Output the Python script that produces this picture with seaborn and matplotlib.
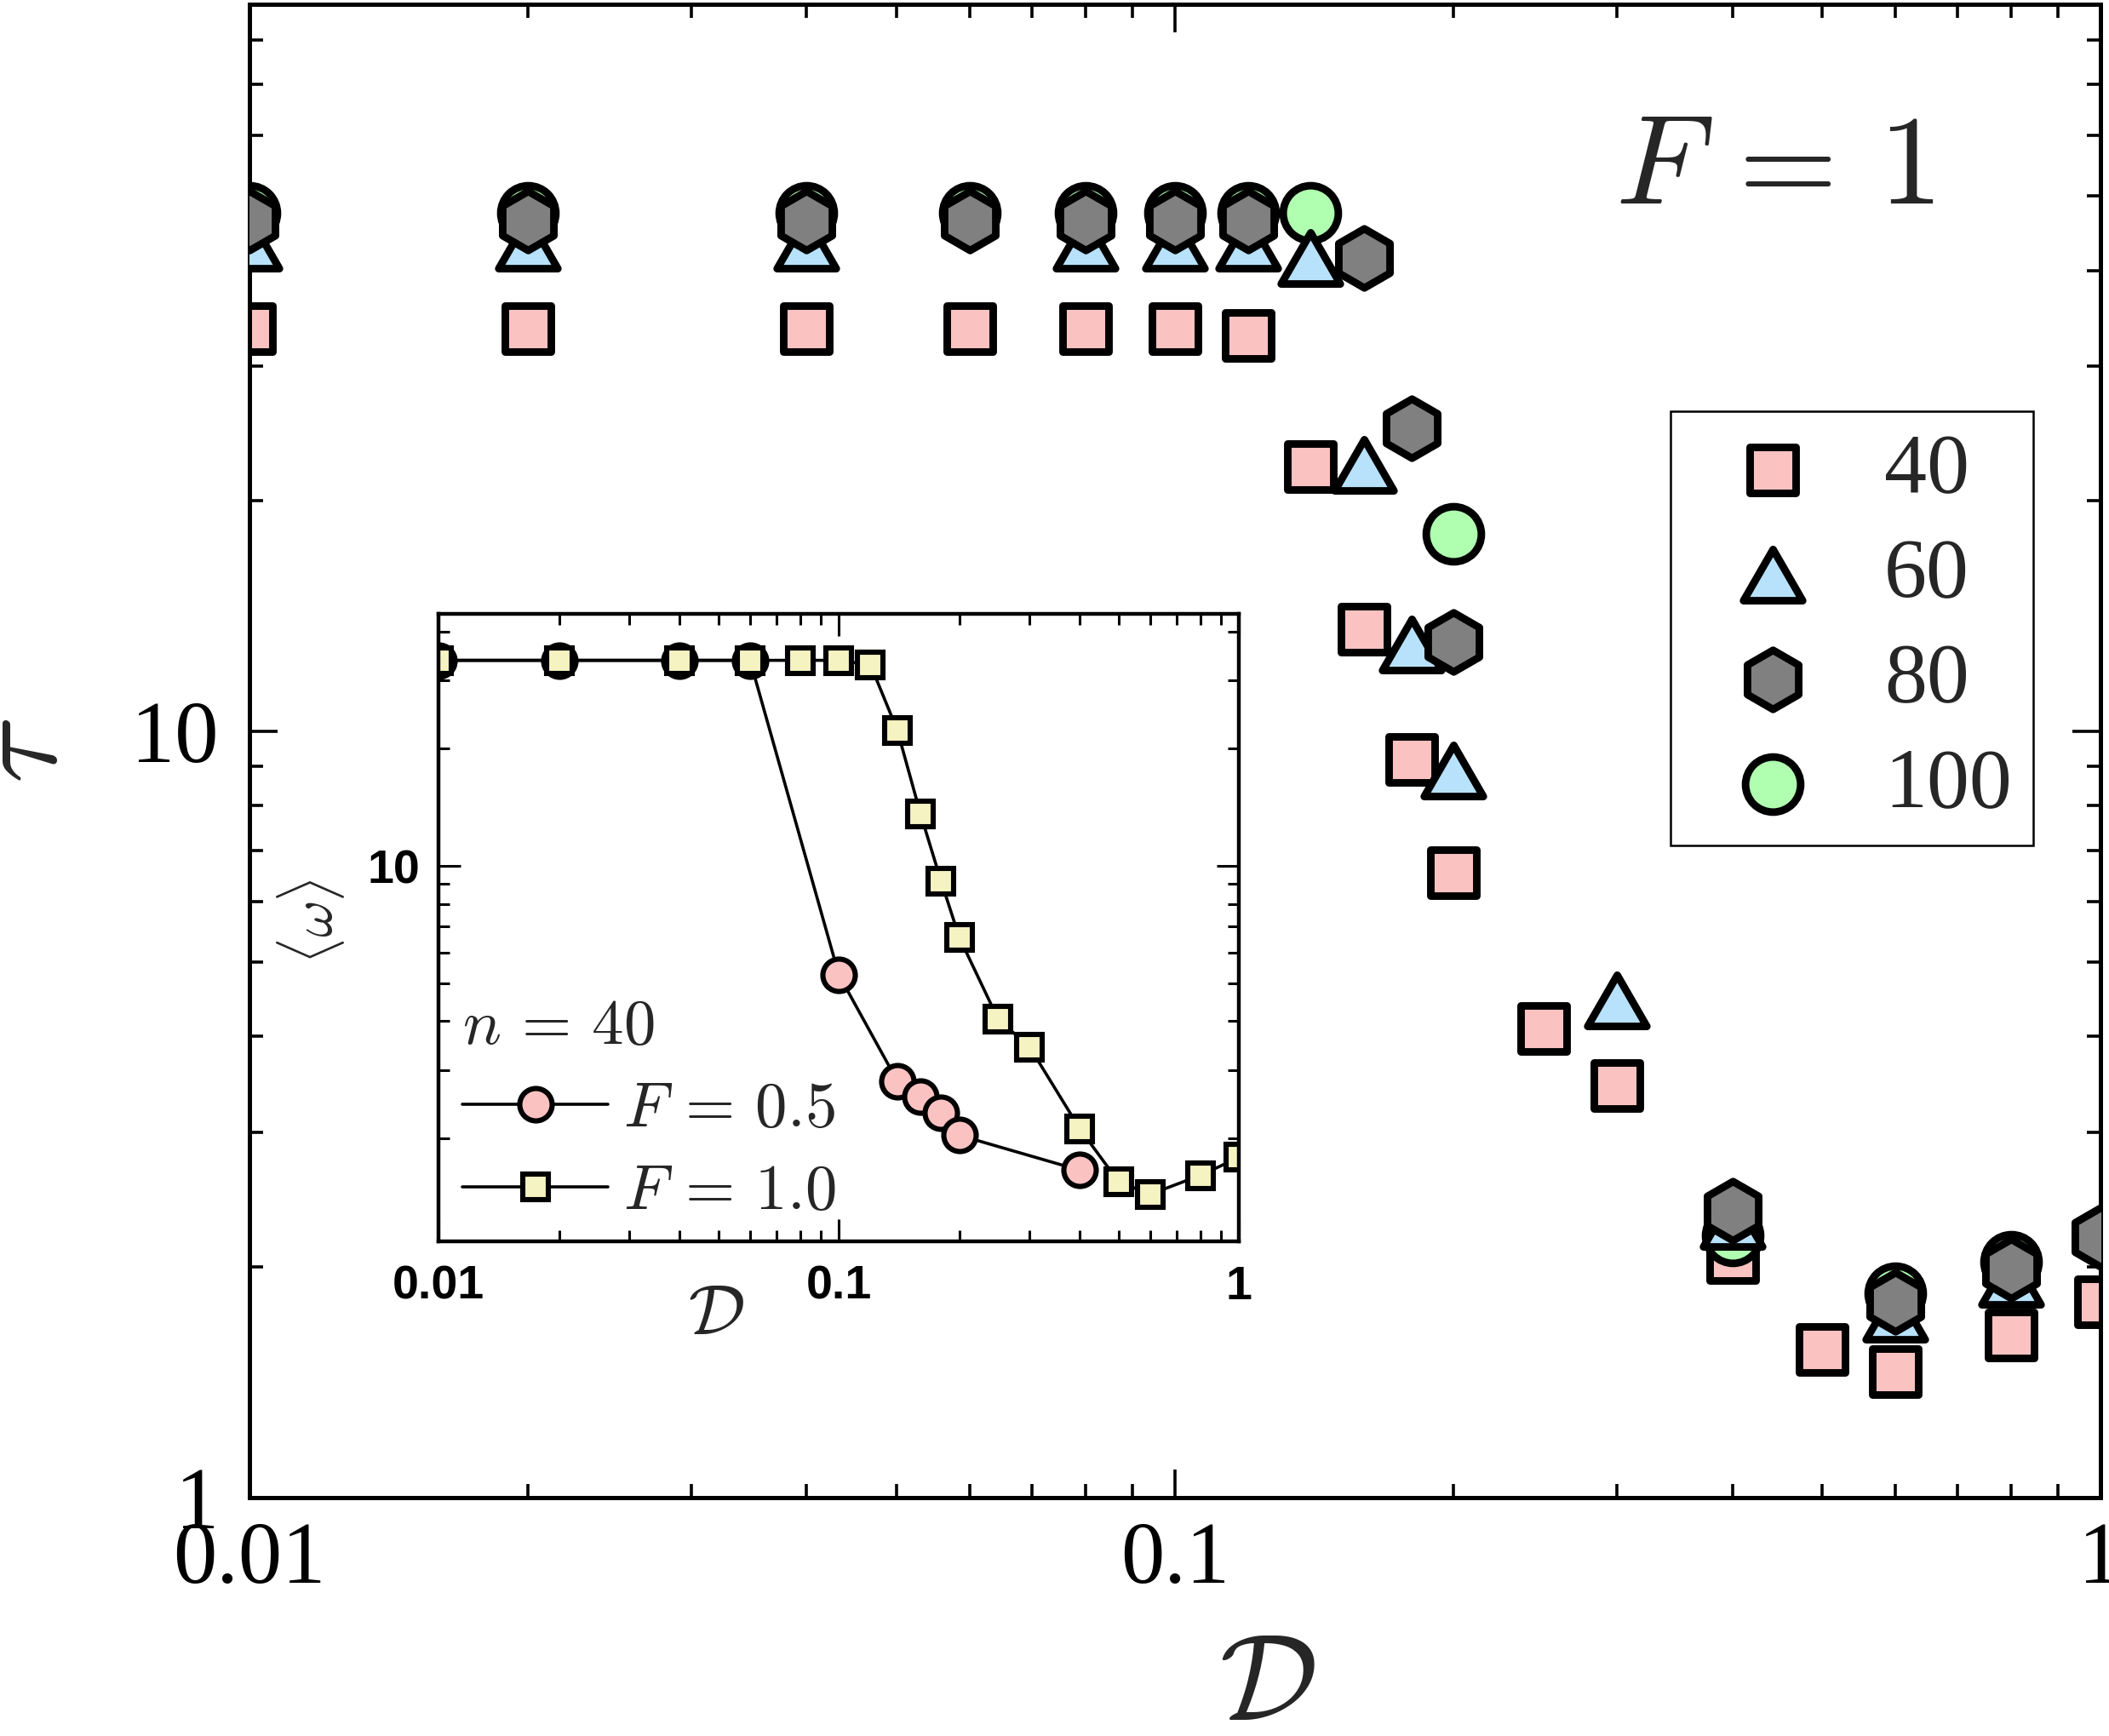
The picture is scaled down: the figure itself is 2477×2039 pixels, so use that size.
import matplotlib
matplotlib.use("Agg")
import matplotlib.pyplot as plt
import matplotlib.ticker as mticker
from matplotlib import font_manager
from matplotlib.path import Path
import seaborn as sns

# main panel: tau vs D at F = 1, one series per n
d_40 = [0.01, 0.02, 0.04, 0.06, 0.08, 0.1, 0.12, 0.14, 0.16, 0.18, 0.2, 0.25, 0.3, 0.4, 0.5, 0.6, 0.8, 1.0]
tau_40 = [33.6, 33.6, 33.6, 33.6, 33.6, 33.6, 32.9, 22.2, 13.6, 9.2, 6.55, 4.1, 3.45, 2.06, 1.56, 1.46, 1.63, 1.80]

d_60 = [0.01, 0.02, 0.04, 0.08, 0.1, 0.12, 0.14, 0.16, 0.18, 0.2, 0.3, 0.4, 0.6, 0.8]
tau_60 = [43.5, 43.5, 43.5, 43.5, 43.5, 43.5, 41.5, 22.3, 13.0, 8.9, 4.46, 2.3, 1.74, 1.93]

d_80 = [0.01, 0.02, 0.04, 0.06, 0.08, 0.1, 0.12, 0.16, 0.18, 0.2, 0.4, 0.6, 0.8, 1.0]
tau_80 = [46.5, 46.5, 46.5, 46.5, 46.5, 46.5, 46.5, 41.5, 24.9, 13.1, 2.37, 1.80, 1.99, 2.19]

d_100 = [0.01, 0.02, 0.04, 0.06, 0.08, 0.1, 0.12, 0.14, 0.2, 0.4, 0.6, 0.8]
tau_100 = [47.6, 47.6, 47.6, 47.6, 47.6, 47.6, 47.6, 47.5, 18.1, 2.2, 1.85, 2.03]

n_labels = ["40", "60", "80", "100"]

# inset: <omega> vs D at n = 40
d_f05 = [0.01, 0.02, 0.04, 0.06, 0.1, 0.14, 0.16, 0.18, 0.2, 0.4]
w_f05 = [33.7, 33.7, 33.7, 33.7, 5.26, 2.81, 2.56, 2.33, 2.04, 1.66]
d_f10 = [0.01, 0.02, 0.04, 0.06, 0.08, 0.1, 0.12, 0.14, 0.16, 0.18, 0.2, 0.25, 0.3, 0.4, 0.5, 0.6, 0.8, 1.0]
w_f10 = [33.7, 33.7, 33.7, 33.7, 33.7, 33.7, 32.8, 22.3, 13.6, 9.16, 6.56, 4.05, 3.43, 2.12, 1.55, 1.44, 1.61, 1.79]

x_ticks = [0.01, 0.1, 1]
x_ticklabels = ["0.01", "0.1", "1"]

PINK = "#fbc2c2"
BLUE = "#b8e2fb"
GRAY = "#808080"
GREEN = "#b0ffb0"
YELLOW = "#f6f3c2"

sns.set_style("ticks")
plt.rcParams["font.family"] = ["Liberation Serif", "DejaVu Serif"]
plt.rcParams["mathtext.fontset"] = "cm"

names = {f.name for f in font_manager.fontManager.ttflist}
inset_font = "Liberation Sans Narrow" if "Liberation Sans Narrow" in names else "Liberation Sans"

fig = plt.figure(figsize=(12.385, 10.195), dpi=200)
ax = fig.add_axes([0.1183, 0.1373, 0.8777, 0.8602])

# equilateral triangle marker
tri = Path([(-1, -0.866), (1, -0.866), (0, 0.866), (-1, -0.866)],
           [Path.MOVETO, Path.LINETO, Path.LINETO, Path.CLOSEPOLY])
ew = 3.2
sns.scatterplot(x=d_40, y=tau_40, marker="s", s=19.4 ** 2, color=PINK, edgecolor="k",
                linewidth=ew, label=n_labels[0], zorder=2, ax=ax)
sns.scatterplot(x=d_60, y=tau_60, marker=tri, s=25 ** 2, color=BLUE, edgecolor="k",
                linewidth=ew, label=n_labels[1], zorder=4, ax=ax)
sns.scatterplot(x=d_80, y=tau_80, marker="h", s=25 ** 2, color=GRAY, edgecolor="k",
                linewidth=ew, label=n_labels[2], zorder=5, ax=ax)
sns.scatterplot(x=d_100, y=tau_100, marker="o", s=23.3 ** 2, color=GREEN, edgecolor="k",
                linewidth=ew, label=n_labels[3], zorder=3, ax=ax)

ax.set_xscale("log")
ax.set_yscale("log")
ax.set_xlim(0.01, 1)
ax.set_ylim(1, 89)
ax.set_xticks(x_ticks, x_ticklabels)
ax.set_yticks([1, 10], ["1", "10"])
ax.xaxis.set_minor_locator(mticker.LogLocator(base=10, subs=range(2, 10), numticks=20))
ax.yaxis.set_minor_locator(mticker.LogLocator(base=10, subs=range(2, 10), numticks=20))
ax.xaxis.set_minor_formatter(mticker.NullFormatter())
ax.yaxis.set_minor_formatter(mticker.NullFormatter())
ax.tick_params(which="both", direction="in", top=True, right=True, width=1.3, colors="k")
ax.tick_params(which="major", length=12, labelsize=37)
ax.tick_params(which="minor", length=5.6)
ax.tick_params(axis="x", which="major", pad=10)
ax.tick_params(axis="y", which="major", pad=13)
for sp in ax.spines.values():
    sp.set_linewidth(1.8)
    sp.set_color("k")

ax.set_xlabel(r"$\mathcal{D}$", fontsize=52)
ax.xaxis.set_label_coords(0.55, -0.092)
ax.set_ylabel(r"$\tau$", fontsize=52)
ax.yaxis.set_label_coords(-0.09, 0.5)

leg = ax.legend(loc="upper right", bbox_to_anchor=(0.964, 0.763), bbox_transform=fig.transFigure,
                fontsize=36, frameon=True, fancybox=False, framealpha=1, edgecolor="k",
                borderpad=0.25, handlelength=1.9, handletextpad=0.36, labelspacing=0.32,
                borderaxespad=0)
leg.get_frame().set_linewidth(0.9)

fig.text(0.766, 0.883, r"$F\,=\,1$", fontsize=54, ha="left", va="baseline")

# inset
axin = fig.add_axes([0.208, 0.2849, 0.3795, 0.3614])
sns.lineplot(x=d_f05, y=w_f05, color="k", lw=1.3, marker="o", markersize=13.7,
             markerfacecolor=PINK, markeredgecolor="k", markeredgewidth=2.2,
             label=r"$F\,=\,0.5$", ax=axin)
sns.lineplot(x=d_f10, y=w_f10, color="k", lw=1.3, marker="s", markersize=10.8,
             markerfacecolor=YELLOW, markeredgecolor="k", markeredgewidth=2.2,
             label=r"$F\,=\,1.0$", ax=axin)
axin.set_xscale("log")
axin.set_yscale("log")
axin.set_xlim(0.01, 1)
axin.set_ylim(1.09, 44.3)
axin.set_xticks(x_ticks, x_ticklabels, fontsize=20, fontweight="bold", fontfamily=inset_font)
axin.set_yticks([10], ["10"], fontsize=20, fontweight="bold", fontfamily=inset_font)
axin.xaxis.set_minor_locator(mticker.LogLocator(base=10, subs=range(2, 10), numticks=20))
axin.yaxis.set_minor_locator(mticker.LogLocator(base=10, subs=range(2, 10), numticks=20))
axin.xaxis.set_minor_formatter(mticker.NullFormatter())
axin.yaxis.set_minor_formatter(mticker.NullFormatter())
axin.tick_params(which="both", direction="in", top=True, right=True, width=1.1, colors="k")
axin.tick_params(which="major", length=9.4)
axin.tick_params(which="minor", length=4.7)
axin.tick_params(axis="x", which="major", pad=10)
axin.tick_params(axis="y", which="major", pad=8)
for sp in axin.spines.values():
    sp.set_linewidth(1.6)
    sp.set_color("k")
axin.set_xlabel(r"$\mathcal{D}$", fontsize=30)
axin.xaxis.set_label_coords(0.346, -0.07)
axin.set_ylabel(r"$\langle\omega\rangle$", fontsize=24)
axin.yaxis.set_label_coords(-0.115, 0.51)

ileg = axin.legend(loc="lower left", bbox_to_anchor=(0.03, 0.03), title=r"$n\,=\,40$",
                   title_fontsize=27, fontsize=27, frameon=False, borderpad=0,
                   borderaxespad=0, handlelength=2.27, handletextpad=0.24,
                   labelspacing=0.38, alignment="left")

fig.savefig("out.png", dpi=200)
